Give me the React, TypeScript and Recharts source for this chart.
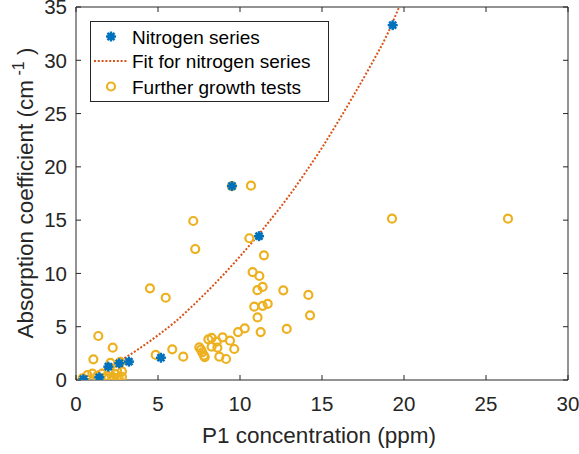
import React from 'react';
import { ComposedChart, Scatter, Line, XAxis, YAxis, Legend, ReferenceLine } from 'recharts';

const FONT = '"Liberation Sans", Arial, Helvetica, sans-serif';
const AXIS = '#262626';
const BLUE = '#0072BD';
const ORANGE = '#D95319';
const YELLOW = '#EDB120';

const xTicks = [0, 5, 10, 15, 20, 25, 30];
const yTicks = [0, 5, 10, 15, 20, 25, 30, 35];
const xMax = 30;
const yMax = 35;

const seriesNames = ['Nitrogen series', 'Fit for nitrogen series', 'Further growth tests'];

// Nitrogen series (blue asterisks)
const nitrogenX = [0.45, 1.42, 1.97, 2.64, 3.23, 5.18, 9.51, 11.16, 19.31];
const nitrogenY = [0.07, 0.25, 1.25, 1.57, 1.72, 2.09, 18.2, 13.5, 33.3];

// Fit curve
const fitX = [0, 1, 2, 3, 4, 5, 6, 7, 8, 9, 10, 11, 12, 13, 14, 15, 16, 17, 18, 19, 19.7];
const fitY = [0, 0.55, 1.3, 2.1, 3.1, 4.2, 5.4, 6.8, 8.3, 9.9, 11.6, 13.4, 15.3, 17.3, 19.5, 21.8, 24.3, 26.9, 29.6, 32.5, 35];

// Further growth tests (yellow circles)
const growthX = [
  0.4, 0.7, 1.0, 1.06, 1.36, 2.24, 1.3, 1.6, 1.8, 2.0, 2.1, 2.2, 2.3, 2.4, 2.5, 2.6, 2.7, 2.8, 2.8, 2.5, 1.9,
  4.51, 5.47, 4.86, 5.87, 6.54, 7.15, 7.27,
  7.52, 7.62, 7.7, 7.8, 7.85, 8.07, 8.27, 8.27, 8.58, 8.62, 8.74, 8.94, 9.15, 9.39, 9.65, 9.88, 10.29,
  9.5, 10.67, 10.57, 11.46, 10.77, 11.18, 11.06, 11.38, 12.64, 14.17, 10.87, 11.38, 11.69, 11.07, 14.27, 11.26, 12.85,
  19.27, 26.34,
];
const growthY = [
  0.15, 0.45, 0.6, 1.94, 4.13, 3.03, 0.35, 0.6, 0.2, 0.8, 1.6, 0.3, 0.1, 0.55, 0.9, 0.2, 1.7, 0.3, 0.8, 0.05, 0.4,
  8.6, 7.72, 2.35, 2.88, 2.19, 14.92, 12.29,
  3.07, 2.85, 2.6, 2.3, 2.15, 3.82, 3.95, 3.13, 3.6, 3.03, 2.19, 4.0, 1.97, 3.69, 2.91, 4.5, 4.85,
  18.2, 18.23, 13.3, 11.7, 10.13, 9.76, 8.43, 8.73, 8.41, 7.98, 6.88, 6.96, 7.15, 5.87, 6.07, 4.5, 4.79,
  15.14, 15.14,
];

const nitrogenData = nitrogenX.map((x, i) => ({ x, y: nitrogenY[i] }));
const fitData = fitX.map((x, i) => ({ x, y: fitY[i] }));
const growthData = growthX.map((x, i) => ({ x, y: growthY[i] }));

const Asterisk = ({ cx, cy }: any) => {
  if (cx == null || cy == null) return null;
  const r = 5;
  const d = r * 0.7071;
  return (
    <g>
      <circle cx={cx} cy={cy} r={3.6} fill={BLUE} />
      <line x1={cx - r} y1={cy} x2={cx + r} y2={cy} stroke={BLUE} strokeWidth={2.4} />
      <line x1={cx} y1={cy - r} x2={cx} y2={cy + r} stroke={BLUE} strokeWidth={2.4} />
      <line x1={cx - d} y1={cy - d} x2={cx + d} y2={cy + d} stroke={BLUE} strokeWidth={2.4} />
      <line x1={cx - d} y1={cy + d} x2={cx + d} y2={cy - d} stroke={BLUE} strokeWidth={2.4} />
    </g>
  );
};

const Ring = ({ cx, cy }: any) => {
  if (cx == null || cy == null) return null;
  return <circle cx={cx} cy={cy} r={4} fill="none" stroke={YELLOW} strokeWidth={2.2} />;
};

const YLabel = () => (
  <text
    x={33}
    y={193}
    transform="rotate(-90 33 193)"
    textAnchor="middle"
    fill={AXIS}
    fontSize={22.5}
    fontFamily={FONT}
  >
    Absorption coefficient (cm
    <tspan dy={-9} fontSize={16}> -1</tspan>
    <tspan dy={9}> )</tspan>
  </text>
);

const XLabel = () => (
  <text x={319} y={443} textAnchor="middle" fill={AXIS} fontSize={22.5} fontFamily={FONT}>
    P1 concentration (ppm)
  </text>
);

const LegendBox = () => {
  const rows = [15.5, 40, 65.5];
  return (
    <svg width={239} height={81} style={{ display: 'block' }}>
      <rect x={0.5} y={0.5} width={238} height={80} fill="#fff" stroke={AXIS} strokeWidth={1} />
      <Asterisk cx={21} cy={rows[0]} />
      <line x1={4} y1={rows[1]} x2={38} y2={rows[1]} stroke={ORANGE} strokeWidth={2} strokeDasharray="2 1.8" />
      <Ring cx={21} cy={rows[2]} />
      {seriesNames.map((n, i) => (
        <text key={n} x={42} y={rows[i] + 7} fontSize={19} fontFamily={FONT} fill="#000">
          {n}
        </text>
      ))}
    </svg>
  );
};

// tick length in data units for the top and right box edges (5 px)
const topTickLen = 5 / (373 / yMax);
const rightTickLen = 5 / (492 / xMax);

export default function App() {
  return (
    <div style={{ position: 'absolute', left: 0, top: 0, background: '#fff' }}>
      <ComposedChart
        width={579}
        height={454}
        margin={{ top: 7, right: 11, bottom: 24, left: 16 }}
        style={{ fontFamily: FONT }}
      >
        <XAxis
          dataKey="x"
          type="number"
          domain={[0, xMax]}
          ticks={xTicks}
          interval={0}
          allowDataOverflow
          height={50}
          stroke={AXIS}
          tickSize={-5}
          tickMargin={21}
          tick={{ fill: AXIS, fontSize: 20.5, fontFamily: FONT }}
          label={<XLabel />}
        />
        <YAxis
          type="number"
          domain={[0, yMax]}
          ticks={yTicks}
          interval={0}
          allowDataOverflow
          width={60}
          stroke={AXIS}
          tickSize={-5}
          tickMargin={14}
          tick={{ fill: AXIS, fontSize: 20.5, fontFamily: FONT }}
          label={<YLabel />}
        />
        <ReferenceLine y={yMax} stroke={AXIS} strokeWidth={1} ifOverflow="visible" />
        <ReferenceLine x={xMax} stroke={AXIS} strokeWidth={1} ifOverflow="visible" />
        {xTicks.map((t) => (
          <ReferenceLine
            key={'tx' + t}
            segment={[{ x: t, y: yMax }, { x: t, y: yMax - topTickLen }]}
            stroke={AXIS}
            strokeWidth={1}
            ifOverflow="visible"
          />
        ))}
        {yTicks.map((t) => (
          <ReferenceLine
            key={'ty' + t}
            segment={[{ x: xMax, y: t }, { x: xMax - rightTickLen, y: t }]}
            stroke={AXIS}
            strokeWidth={1}
            ifOverflow="visible"
          />
        ))}
        <Scatter name={seriesNames[2]} data={growthData} dataKey="y" shape={<Ring />} isAnimationActive={false} />
        <Line
          name={seriesNames[1]}
          data={fitData}
          dataKey="y"
          type="monotone"
          stroke={ORANGE}
          strokeWidth={2}
          strokeDasharray="2 1.8"
          dot={false}
          activeDot={false}
          isAnimationActive={false}
        />
        <Scatter name={seriesNames[0]} data={nitrogenData} dataKey="y" shape={<Asterisk />} isAnimationActive={false} />
        <Legend
          layout="vertical"
          align="center"
          verticalAlign="middle"
          content={() => <LegendBox />}
          wrapperStyle={{ left: 90, top: 21, width: 239, height: 81 }}
        />
      </ComposedChart>
    </div>
  );
}
